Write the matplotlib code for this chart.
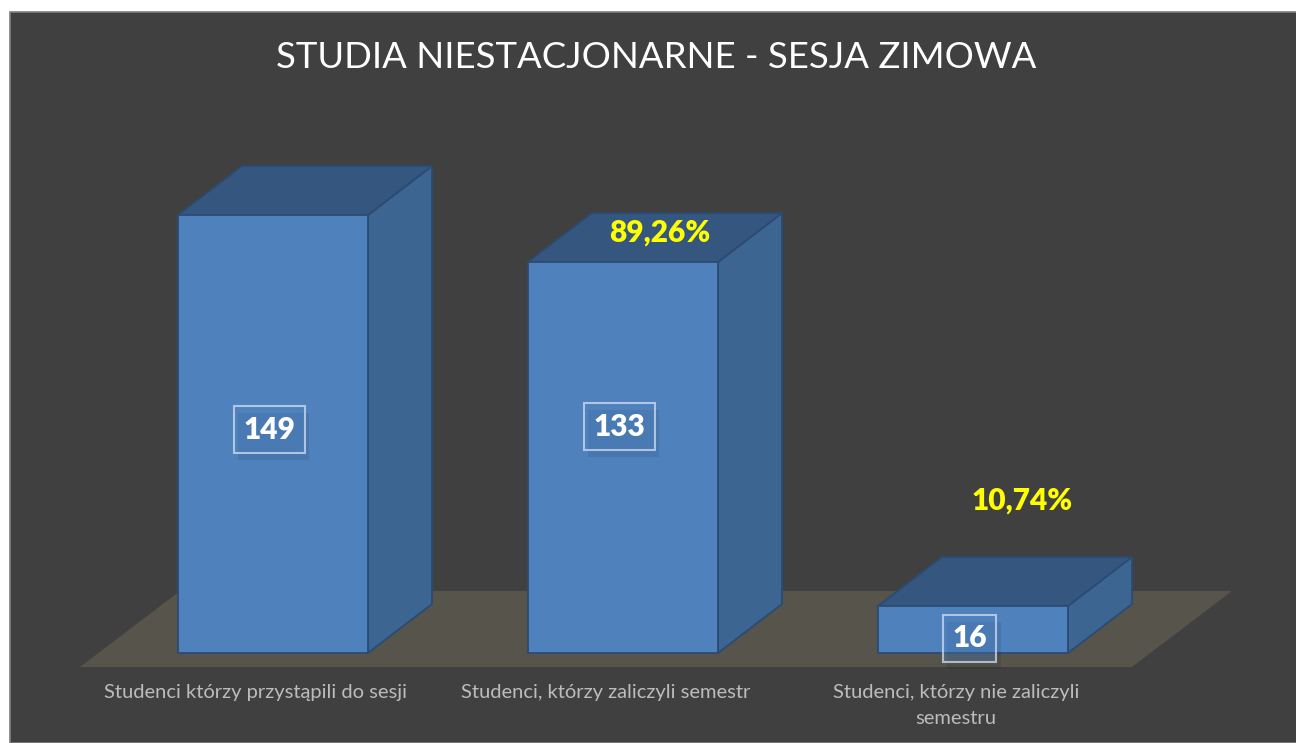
import matplotlib.pyplot as plt
from matplotlib.patches import Rectangle, Polygon
from matplotlib.transforms import offset_copy
import matplotlib.patheffects as pe

# data
categories = ["Studenci którzy przystąpili do sesji",
              "Studenci, którzy zaliczyli semestr",
              "Studenci, którzy nie zaliczyli\nsemestru"]
values = [149, 133, 16]
title = "STUDIA NIESTACJONARNE - SESJA ZIMOWA"

# layout (pixels of the 1296x743 canvas)
W, H = 1296, 743
bg = "#404040"
floor_col = "#57544c"
front_col = "#4f81bd"
top_col = "#34567f"
side_col = "#3c6591"
edge_col = "#2b4b73"

fig = plt.figure(figsize=(W / 100, H / 100), dpi=100, facecolor="white")
fig.patches.append(Rectangle((10 / W, 0), 1, (H - 12) / H, transform=fig.transFigure,
                             facecolor=bg, edgecolor="#7f7f7f", lw=1.2, zorder=-5))

# axes spans the floor area: px 80..1231 horizontally, 150..667 vertically
ax = fig.add_axes([80 / W, (H - 667) / H, 1151 / W, 517 / H])
ax.set_axis_off()
ax.patch.set_alpha(0)
px_x = 350.0                # pixels per category
px_y = 438.0 / values[0]    # pixels per unit
ax.set_xlim((80 - 273) / px_x, (1231 - 273) / px_x)
ax.set_ylim(-(667 - 653) / px_y, (653 - 150) / px_y)

dx = 64 / px_x      # depth offset of the boxes
dy = 49 / px_y
hw = 95 / px_x      # half bar width

# floor
fx0, fx1 = (80 - 273) / px_x, (1132 - 273) / px_x
fdx, fy0, fy1 = 100 / px_x, -(667 - 653) / px_y, (653 - 591) / px_y
ax.add_patch(Polygon([(fx0, fy0), (fx1, fy0), (fx1 + fdx, fy1), (fx0 + fdx, fy1)],
                     closed=True, facecolor=floor_col, edgecolor="none", zorder=1))

for i, v in enumerate(values):
    x0, x1 = i - hw, i + hw
    ax.add_patch(Polygon([(x1, 0), (x1 + dx, dy), (x1 + dx, v + dy), (x1, v)],
                         facecolor=side_col, edgecolor=edge_col, lw=1.3, zorder=2))
    ax.add_patch(Polygon([(x0, v), (x1, v), (x1 + dx, v + dy), (x0 + dx, v + dy)],
                         facecolor=top_col, edgecolor=edge_col, lw=1.3, zorder=2))
    ax.add_patch(Rectangle((x0, 0), 2 * hw, v, facecolor=front_col,
                           edgecolor=edge_col, lw=1.3, zorder=3))

# value labels in boxes
label_y = [76, 77, 5]
for i, v in enumerate(values):
    t = ax.text(i - 0.01, label_y[i], str(v), ha="center", va="center", fontsize=21.5,
                fontweight="heavy", family="Lato", color="white",
                bbox=dict(boxstyle="square,pad=0.32", facecolor=(0.31, 0.51, 0.74, 0.35),
                          edgecolor=(0.82, 0.87, 0.94, 0.75), lw=1.5), zorder=5)
    t.get_bbox_patch().set_path_effects([
        pe.SimplePatchShadow(offset=(3, -5), shadow_rgbFace="black", alpha=0.08),
        pe.Normal()])

# percentages
pct_pos = [(1.106, 142.9), (2.14, 51.7)]
for (px, py), v in zip(pct_pos, values[1:]):
    s = f"{v / values[0] * 100:.2f}%".replace(".", ",")
    ax.text(px, py, s, ha="center", va="center", fontsize=21.5, fontweight="heavy",
            family="Lato", color="#ffff00", zorder=6)

# category labels
for i, c in enumerate(categories):
    ax.text(i - 0.049, -(693 - 653) / px_y, c, ha="center", va="top", fontsize=14.5,
            family="Lato", color="#bcbcbc", linespacing=1.65, clip_on=False,
            transform=offset_copy(ax.transData, fig=fig, y=9, units="dots"))

fig.text(656 / W, 1 - 57 / H, title, ha="center", va="center", fontsize=26.3,
         family="Lato", color="white")

fig.savefig("out.png", dpi=100, facecolor=fig.get_facecolor())
